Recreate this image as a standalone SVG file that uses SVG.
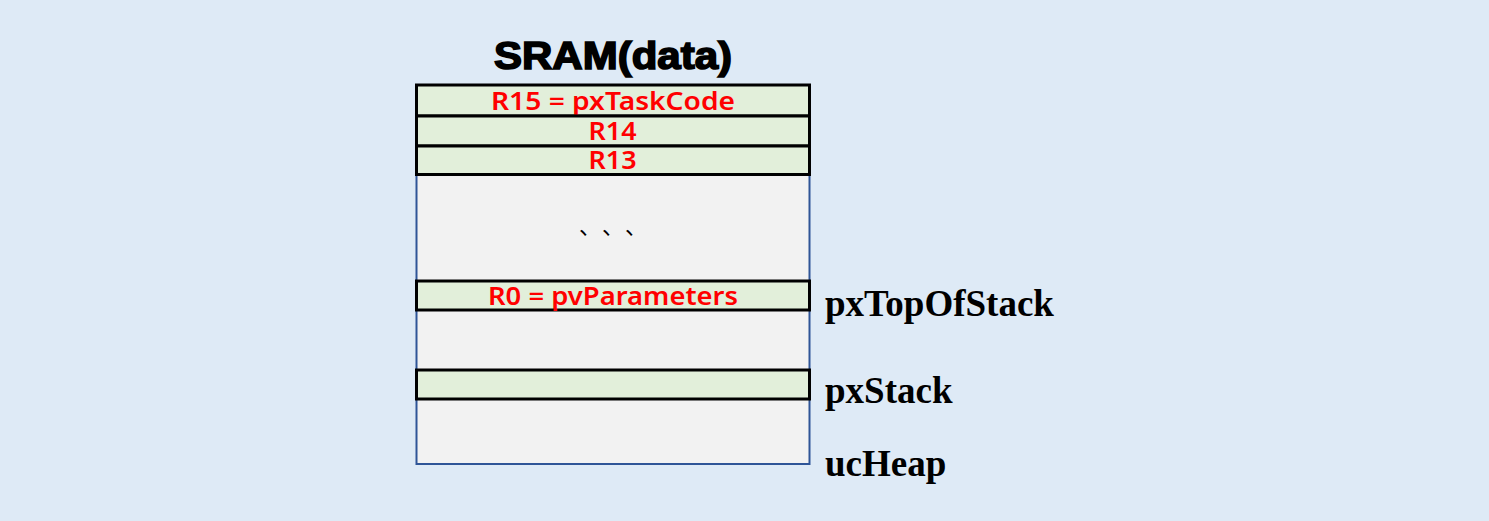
<svg xmlns="http://www.w3.org/2000/svg" width="1489" height="521" viewBox="0 0 1489 521">
<style>
.row{fill:#E2EFDA;stroke:#000;stroke-width:3}
.reg{font-family:"Noto Sans","Liberation Sans",sans-serif;font-weight:600;font-size:25px;fill:#FF0000;text-anchor:middle}
.lbl{font-family:"Liberation Serif","Times New Roman",serif;font-weight:bold;font-size:37px;fill:#000}
.dot{font-family:"Noto Sans CJK SC",sans-serif;font-size:22px;fill:#000}
</style>
<rect width="1489" height="521" fill="#DEEAF6"/>
<g id="title"><text x="613" y="69" text-anchor="middle" font-family="'Liberation Sans',Arial,sans-serif" font-weight="bold" font-size="38" fill="#000" stroke="#000" stroke-width="1.6" textLength="238" lengthAdjust="spacingAndGlyphs">SRAM(data)</text></g>
<g id="sram"><rect x="416.5" y="85" width="393" height="379" fill="#F2F2F2" stroke="#2F5597" stroke-width="2"/></g>
<g id="r15"><rect class="row" x="416.5" y="85" width="393" height="31"/><text class="reg" x="613" y="110" textLength="244" lengthAdjust="spacingAndGlyphs">R15 = pxTaskCode</text></g>
<g id="r14"><rect class="row" x="416.5" y="116" width="393" height="30"/><text class="reg" x="612.5" y="140" textLength="48" lengthAdjust="spacingAndGlyphs">R14</text></g>
<g id="r13"><rect class="row" x="416.5" y="146" width="393" height="28.5"/><text class="reg" x="612.5" y="169" textLength="48" lengthAdjust="spacingAndGlyphs">R13</text></g>
<g id="dots">
<text class="dot" x="579" y="234">、</text>
<text class="dot" x="602" y="234">、</text>
<text class="dot" x="625" y="234">、</text>
</g>
<g id="r0"><rect class="row" x="416.5" y="281" width="393" height="29"/><text class="reg" x="613" y="305" textLength="250" lengthAdjust="spacingAndGlyphs">R0 = pvParameters</text></g>
<g id="stack"><rect class="row" x="416.5" y="370" width="393" height="29"/></g>
<g id="labels">
<text class="lbl" x="825" y="316">pxTopOfStack</text>
<text class="lbl" x="825" y="403">pxStack</text>
<text class="lbl" x="825" y="476">ucHeap</text>
</g>
<g id="connectors"/>
</svg>
